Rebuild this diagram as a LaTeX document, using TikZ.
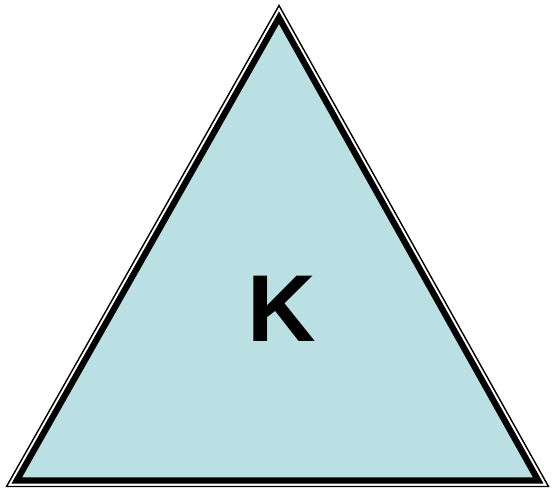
\documentclass[tikz,border=0pt]{standalone}
\usepackage{fontspec}
\setmainfont{Liberation Sans}
\definecolor{tri}{RGB}{187,224,227}
\begin{document}
\begin{tikzpicture}[x=1pt,y=-1pt,
  outerline/.style={draw=black,line width=1.4pt,line join=miter,miter limit=20},
  innerline/.style={draw=black,fill=tri,line width=6.2pt,line join=miter,miter limit=20}]
\useasboundingbox (0,0) rectangle (552,492);
\coordinate (oa) at (279,5.5);
\coordinate (ob) at (6.5,486.5);
\coordinate (oc) at (548.5,486.5);
\coordinate (ia) at (279,17.7);
\coordinate (ib) at (16.8,480.4);
\coordinate (ic) at (538.2,480.4);
\draw[outerline] (oa) -- (ob) -- (oc) -- cycle;
\draw[innerline] (ia) -- (ib) -- (ic) -- cycle;
\node[inner sep=0pt,font=\fontsize{95}{95}\selectfont\bfseries] (k) at (282,309) {K};
\end{tikzpicture}
\end{document}
